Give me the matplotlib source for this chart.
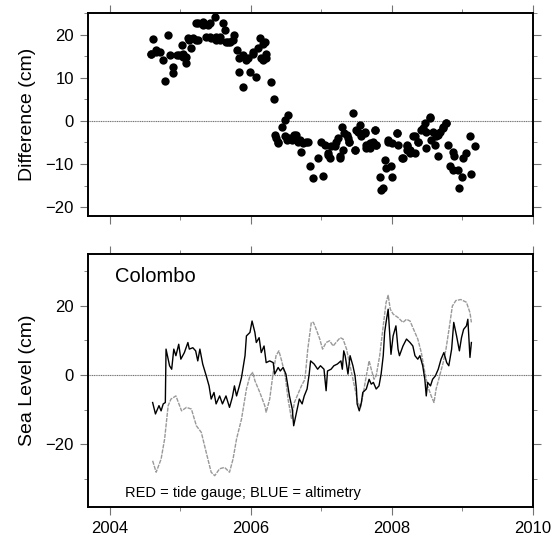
import numpy as np
import matplotlib
matplotlib.use('Agg')
import matplotlib.pyplot as plt
from matplotlib.ticker import MultipleLocator

plt.rcParams['font.family'] = ['Liberation Sans', 'DejaVu Sans']

# difference (tide gauge - altimetry), cm
diff_t = [2004.58, 2004.59, 2004.62, 2004.66, 2004.66, 2004.71, 2004.76, 2004.79, 2004.83, 2004.85,
          2004.90, 2004.90, 2004.95, 2004.99, 2005.02, 2005.04, 2005.04, 2005.09, 2005.09, 2005.11,
          2005.13, 2005.16, 2005.18, 2005.23, 2005.23, 2005.25, 2005.25, 2005.32, 2005.32, 2005.37,
          2005.39, 2005.42, 2005.42, 2005.44, 2005.50, 2005.51, 2005.51, 2005.56, 2005.56, 2005.61,
          2005.63, 2005.65, 2005.68, 2005.70, 2005.75, 2005.77, 2005.81, 2005.83, 2005.84, 2005.89,
          2005.89, 2005.94, 2005.96, 2005.99, 2006.03, 2006.03, 2006.08, 2006.10, 2006.13, 2006.15,
          2006.17, 2006.17, 2006.20, 2006.22, 2006.22, 2006.29, 2006.33, 2006.34, 2006.36, 2006.39,
          2006.39, 2006.44, 2006.48, 2006.48, 2006.51, 2006.53, 2006.55, 2006.58, 2006.62, 2006.64,
          2006.67, 2006.70, 2006.72, 2006.74, 2006.79, 2006.81, 2006.84, 2006.88, 2006.96, 2007.00,
          2007.02, 2007.05, 2007.10, 2007.10, 2007.12, 2007.14, 2007.19, 2007.21, 2007.24, 2007.26,
          2007.26, 2007.29, 2007.31, 2007.33, 2007.36, 2007.38, 2007.40, 2007.40, 2007.45, 2007.48,
          2007.48, 2007.50, 2007.52, 2007.55, 2007.57, 2007.62, 2007.62, 2007.64, 2007.64, 2007.69,
          2007.69, 2007.73, 2007.76, 2007.76, 2007.78, 2007.78, 2007.83, 2007.85, 2007.88, 2007.90,
          2007.92, 2007.95, 2007.95, 2007.99, 2008.01, 2008.01, 2008.07, 2008.07, 2008.09, 2008.14,
          2008.16, 2008.21, 2008.21, 2008.21, 2008.26, 2008.26, 2008.30, 2008.33, 2008.33, 2008.37,
          2008.37, 2008.42, 2008.44, 2008.47, 2008.49, 2008.49, 2008.54, 2008.54, 2008.56, 2008.59,
          2008.61, 2008.63, 2008.66, 2008.66, 2008.68, 2008.73, 2008.73, 2008.77, 2008.77, 2008.80,
          2008.82, 2008.87, 2008.87, 2008.89, 2008.94, 2008.96, 2008.99, 2009.01, 2009.06, 2009.11,
          2009.12, 2009.18]
diff_v = [15.4, 15.6, 18.9, 16.0, 16.4, 16.0, 14.1, 9.3, 20.0, 15.2,
          12.5, 11.0, 15.2, 15.2, 17.5, 14.9, 15.6, 13.3, 14.9, 19.1,
          18.7, 16.8, 19.1, 18.7, 22.6, 22.6, 18.7, 22.2, 23.0, 19.5,
          22.2, 22.6, 19.5, 19.1, 24.1, 19.5, 18.7, 18.7, 19.5, 22.6,
          21.0, 18.3, 18.3, 18.3, 18.7, 19.9, 16.4, 11.4, 14.5, 7.8,
          15.2, 14.1, 14.5, 11.4, 15.6, 16.0, 10.2, 16.8, 19.1, 14.5,
          14.1, 17.9, 18.3, 15.6, 14.5, 9.1, 5.0, -3.2, -4.0, -5.1,
          -4.8, -1.3, 0.2, -3.6, -4.4, 1.4, -4.0, -4.4, -3.2, -3.2,
          -4.8, -4.4, -7.1, -5.1, -4.8, -4.8, -10.5, -13.2, -8.6, -4.8,
          -12.7, -5.5, -7.9, -7.5, -8.6, -5.9, -5.9, -4.8, -4.0, -8.2,
          -8.6, -1.3, -6.7, -2.8, -3.2, -4.0, -4.8, -4.8, 1.9, -6.7,
          -6.7, -2.1, -2.5, -0.9, -3.6, -2.5, -2.8, -5.5, -6.3, -6.3,
          -5.1, -4.8, -2.1, -2.1, -5.5, -5.5, -12.9, -15.9, -15.5, -9.0,
          -10.9, -4.8, -4.4, -10.5, -12.9, -5.1, -2.8, -2.8, -5.5, -8.6,
          -8.6, -6.7, -5.5, -5.9, -6.7, -7.5, -3.6, -3.6, -7.5, -4.8,
          -4.8, -2.1, -1.7, -0.5, -2.5, -6.3, 0.6, 1.0, -4.4, -2.5,
          -5.5, -3.6, -3.2, -8.2, -2.5, -1.7, -1.3, -0.5, -0.5, -5.5,
          -10.5, -7.1, -11.3, -8.2, -11.3, -15.5, -12.9, -8.6, -7.5, -3.6,
          -12.2, -5.9]

# tide gauge sea level, cm
tg_t = [2004.61, 2004.65, 2004.70, 2004.73, 2004.76, 2004.79, 2004.80, 2004.85, 2004.88, 2004.91,
        2004.94, 2004.98, 2005.01, 2005.06, 2005.11, 2005.13, 2005.18, 2005.22, 2005.25, 2005.28,
        2005.32, 2005.37, 2005.41, 2005.44, 2005.48, 2005.51, 2005.56, 2005.60, 2005.65, 2005.70,
        2005.74, 2005.77, 2005.80, 2005.84, 2005.87, 2005.92, 2005.94, 2005.99, 2006.02, 2006.06,
        2006.08, 2006.12, 2006.15, 2006.19, 2006.22, 2006.27, 2006.32, 2006.34, 2006.39, 2006.42,
        2006.46, 2006.50, 2006.55, 2006.59, 2006.61, 2006.64, 2006.69, 2006.73, 2006.76, 2006.80,
        2006.83, 2006.85, 2006.90, 2006.95, 2006.99, 2007.04, 2007.07, 2007.09, 2007.14, 2007.18,
        2007.23, 2007.28, 2007.30, 2007.32, 2007.34, 2007.38, 2007.41, 2007.45, 2007.48, 2007.50,
        2007.51, 2007.54, 2007.57, 2007.59, 2007.64, 2007.68, 2007.71, 2007.74, 2007.78, 2007.82,
        2007.85, 2007.88, 2007.90, 2007.92, 2007.95, 2007.97, 2007.99, 2008.02, 2008.06, 2008.09,
        2008.11, 2008.16, 2008.21, 2008.26, 2008.30, 2008.33, 2008.37, 2008.40, 2008.44, 2008.47,
        2008.49, 2008.51, 2008.55, 2008.58, 2008.62, 2008.66, 2008.70, 2008.74, 2008.78, 2008.81,
        2008.85, 2008.88, 2008.92, 2008.96, 2008.99, 2009.02, 2009.06, 2009.08, 2009.11, 2009.13]
tg_v = [-7.9, -11.2, -8.8, -10.3, -8.3, -7.9, 7.5, 2.7, 1.7, 7.5,
        5.6, 8.9, 4.6, 6.5, 9.4, 7.5, 7.9, 7.0, 4.1, 7.5,
        3.2, -0.2, -3.1, -6.9, -5.0, -8.3, -6.0, -8.3, -6.0, -9.3,
        -6.4, -3.1, -6.0, -3.1, -0.7, 5.6, 11.3, 12.3, 15.6, 12.3,
        9.4, 10.8, 6.5, 8.4, 3.6, 4.1, 3.6, 0.3, 2.2, 1.2,
        2.2, 0.3, -6.0, -9.8, -14.6, -11.7, -6.9, -8.3, -6.0, -4.0,
        0.3, 4.1, 3.2, 1.7, 2.7, 1.7, -4.5, 1.2, 1.7, 2.7,
        3.2, 4.1, 1.7, 7.0, 5.6, 0.3, 5.6, 2.7, -0.2, -4.0,
        -8.3, -10.3, -7.9, -5.0, -4.0, -1.2, -2.6, -2.1, -4.0, -3.1,
        0.3, 5.6, 12.3, 15.2, 19.0, 12.3, 6.0, 11.3, 14.2, 7.5,
        5.6, 8.4, 10.4, 9.4, 8.4, 5.6, 4.6, 5.6, 2.7, -1.2,
        -6.0, -2.1, -3.1, -1.2, -0.2, 1.7, 4.6, 6.5, 3.6, 2.7,
        7.5, 15.2, 11.3, 7.0, 10.8, 13.2, 14.2, 16.1, 5.1, 9.4]

# altimetry sea level, cm
alt_t = [2004.61, 2004.66, 2004.73, 2004.78, 2004.83, 2004.87, 2004.94, 2005.02, 2005.09, 2005.16,
         2005.23, 2005.30, 2005.37, 2005.44, 2005.49, 2005.56, 2005.63, 2005.70, 2005.75, 2005.80,
         2005.87, 2005.94, 2005.99, 2006.03, 2006.06, 2006.13, 2006.20, 2006.22, 2006.27, 2006.32,
         2006.36, 2006.40, 2006.44, 2006.49, 2006.53, 2006.58, 2006.62, 2006.67, 2006.72, 2006.77,
         2006.81, 2006.86, 2006.89, 2006.93, 2006.98, 2007.02, 2007.07, 2007.12, 2007.17, 2007.21,
         2007.27, 2007.31, 2007.36, 2007.40, 2007.44, 2007.48, 2007.52, 2007.56, 2007.59, 2007.64,
         2007.68, 2007.71, 2007.75, 2007.78, 2007.83, 2007.88, 2007.92, 2007.95, 2007.98, 2008.02,
         2008.09, 2008.16, 2008.21, 2008.26, 2008.30, 2008.37, 2008.42, 2008.47, 2008.51, 2008.56,
         2008.60, 2008.63, 2008.68, 2008.73, 2008.77, 2008.82, 2008.86, 2008.91, 2008.98, 2009.06,
         2009.11, 2009.13]
alt_v = [-24.7, -28.0, -24.2, -18.4, -8.8, -6.9, -6.0, -10.3, -9.3, -9.8,
         -14.6, -16.5, -22.3, -28.0, -29.0, -27.0, -26.6, -28.0, -24.2, -18.4,
         -12.7, -4.0, -0.2, 0.8, -1.6, -5.0, -8.8, -10.7, -6.9, 0.8,
         5.6, 7.0, 4.1, -0.2, -6.9, -12.7, -7.9, -5.5, -3.1, -1.2,
         7.5, 15.2, 15.2, 13.2, 10.4, 7.5, 9.4, 9.9, 8.4, 9.4,
         10.8, 10.4, 7.5, 3.6, -0.2, -4.0, -7.9, -9.3, -6.0, -0.2,
         4.1, 1.7, -1.2, -0.2, 5.6, 14.2, 20.9, 23.0, 19.0, 17.6,
         16.6, 15.2, 16.1, 15.6, 13.7, 10.4, 6.5, 0.8, -3.1, -6.0,
         -7.9, -4.0, -0.2, 3.6, 7.5, 14.2, 19.9, 21.5, 21.8, 21.0,
         18.0, 15.2]

fig = plt.figure(figsize=(5.59, 5.41), dpi=100)
ax1 = fig.add_axes([0.157, 0.601, 0.796, 0.375])
ax2 = fig.add_axes([0.157, 0.063, 0.796, 0.468])


def style(ax):
    for s in ax.spines.values():
        s.set_linewidth(1.4)
    ax.set_xlim(2003.69, 2010)
    ax.xaxis.set_major_locator(MultipleLocator(2))
    ax.xaxis.set_minor_locator(MultipleLocator(1))
    ax.tick_params(which='both', direction='out', top=True, right=True,
                   color='0.45', labelsize=12, pad=4)
    ax.tick_params(which='major', length=6, width=0.8)
    ax.tick_params(which='minor', length=3, width=0.6)
    ax.axhline(0, color='0.45', lw=0.8, ls=(0, (1, 0.6)), zorder=1)


style(ax1)
ax1.scatter(diff_t, diff_v, s=36, color='black', zorder=3, linewidths=0)
ax1.set_ylim(-22, 25)
ax1.yaxis.set_major_locator(MultipleLocator(10))
ax1.yaxis.set_minor_locator(MultipleLocator(5))
ax1.tick_params(labelbottom=False)
ax1.set_ylabel('Difference (cm)', fontsize=14, labelpad=7)

style(ax2)
ax2.plot(alt_t, alt_v, color='0.6', lw=1.0, ls=(0, (3, 0.8)), zorder=2)
ax2.plot(tg_t, tg_v, color='black', lw=1.0, zorder=3)
ax2.set_ylim(-38, 35)
ax2.yaxis.set_major_locator(MultipleLocator(20))
ax2.yaxis.set_minor_locator(MultipleLocator(10))
ax2.set_ylabel('Sea Level (cm)', fontsize=14, labelpad=7)
ax2.text(0.061, 0.91, 'Colombo', transform=ax2.transAxes, fontsize=14.5,
         ha='left', va='center')
ax2.text(0.083, 0.055, 'RED = tide gauge; BLUE = altimetry', transform=ax2.transAxes,
         fontsize=10.5, ha='left', va='center')

fig.savefig('out.png', dpi=100)
